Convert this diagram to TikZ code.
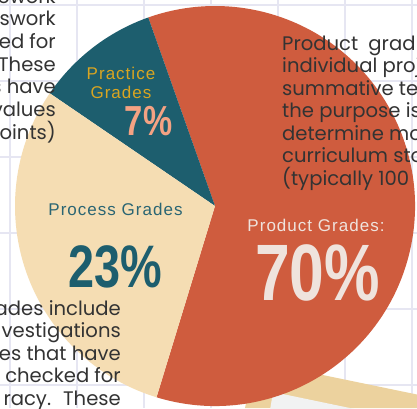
\documentclass[tikz,border=0pt]{standalone}
\usepackage{fontspec}
\setmainfont{Poppins}
\newfontfamily\labelfont{Liberation Sans}[LetterSpace=6]
\newfontfamily\numfont{Liberation Sans}[FakeStretch=0.78]
\definecolor{orng}{HTML}{CF5C3E}
\definecolor{tealw}{HTML}{1D5E6E}
\definecolor{beigew}{HTML}{F5DDB3}
\definecolor{goldtxt}{HTML}{D9A521}
\definecolor{salmontxt}{HTML}{F4A283}
\definecolor{tealtxt}{HTML}{2A6573}
\definecolor{prodtxt}{HTML}{EFE3DD}
\definecolor{bodytxt}{HTML}{333333}
\definecolor{gridc}{HTML}{E6E6F2}
\definecolor{tanw}{HTML}{ECD29E}
\definecolor{paperw}{HTML}{F1F2F2}
\begin{document}
\begin{tikzpicture}[x=1pt,y=-1pt,
  body/.style={font=\fontsize{19.6}{22}\selectfont, text=bodytxt, inner sep=0pt},
  lbl/.style={font=\labelfont\fontsize{17}{20}\selectfont, inner sep=0pt, anchor=base},
  pct/.style={inner sep=0pt, anchor=base}]
\useasboundingbox (0,0) rectangle (417,408);
\clip (0,0) rectangle (417,408);
\fill[white] (0,0) rectangle (417,408);
\foreach \x in {10,77,144,211,278,345,412} \draw[gridc, line width=1.2pt] (\x,0) -- (\x,408);
\foreach \y in {5,81,157,233,309,385} \draw[gridc, line width=1.2pt] (0,\y) -- (417,\y);
% clipboard
\fill[tanw] (245,408) -- (255,361) -- (417,394.5) -- (417,408) -- cycle;
\fill[paperw] (270,410) -- (273,392) -- (417,422) -- cycle;
% pie
\coordinate (c) at (215,206);
\fill[orng] (c) -- ++(-253:200) arc[start angle=-253, end angle=-469.5, radius=200] -- cycle;
\fill[tealw] (c) -- ++(-109.5:200) arc[start angle=-109.5, end angle=-145.7, radius=200] -- cycle;
\fill[beigew] (c) -- ++(-145.7:200) arc[start angle=-145.7, end angle=-253, radius=200] -- cycle;
% labels
\node[lbl, text=goldtxt] (prac1) at (121,79) {Practice};
\node[lbl, text=goldtxt] (prac2) at (121,98) {Grades};
\node[pct, text=salmontxt, font=\numfont\bfseries\fontsize{42}{42}\selectfont] (p7) at (148.5,135) {7\%};
\node[lbl, text=tealtxt] (proc) at (115.5,215) {Process Grades};
\node[pct, text=tealw, font=\numfont\bfseries\fontsize{60}{60}\selectfont] (p23) at (115,287) {23\%};
\node[lbl, text=prodtxt] (prod) at (316,231) {Product Grades:};
\node[pct, text=prodtxt, font=\numfont\bfseries\fontsize{80}{80}\selectfont] (p70) at (317.5,300) {70\%};
% body text top-left
\node[body, anchor=base east] (tl0) at (56,3) {ework};
\node[body, anchor=base east] (tl1) at (56,25.7) {swork};
\node[body, anchor=base east] (tl2) at (56,48.4) {ed for};
\node[body, anchor=base east] (tl3) at (56,71.1) {These};
\node[body, anchor=base east] (tl4) at (56,93.8) {s have};
\node[body, anchor=base east] (tl5) at (56,116.5) {values};
\node[body, anchor=base east] (tl6) at (56,139.2) {points)};
% body text right
\node[body, anchor=base west] (r1) at (282,50) {Product\hspace{5pt} grad};
\node[body, anchor=base west] (r2) at (282,72.5) {individual proj};
\node[body, anchor=base west] (r3) at (282,95) {summative te};
\node[body, anchor=base west] (r4) at (282,117.5) {the purpose is};
\node[body, anchor=base west] (r5) at (282,140) {determine mo};
\node[body, anchor=base west] (r6) at (282,162.5) {curriculum sto};
\node[body, anchor=base west] (r7) at (282,185) {(typically 100};
% body text bottom-left
\node[body, anchor=base east] (b1) at (121,315) {ades include};
\node[body, anchor=base east] (b2) at (121,337.5) {vestigations};
\node[body, anchor=base east] (b3) at (121,360) {es that have};
\node[body, anchor=base east] (b4) at (121,382.5) {checked for};
\node[body, anchor=base east] (b5) at (121,405) {racy.\hspace{5pt} These};
\end{tikzpicture}
\end{document}
